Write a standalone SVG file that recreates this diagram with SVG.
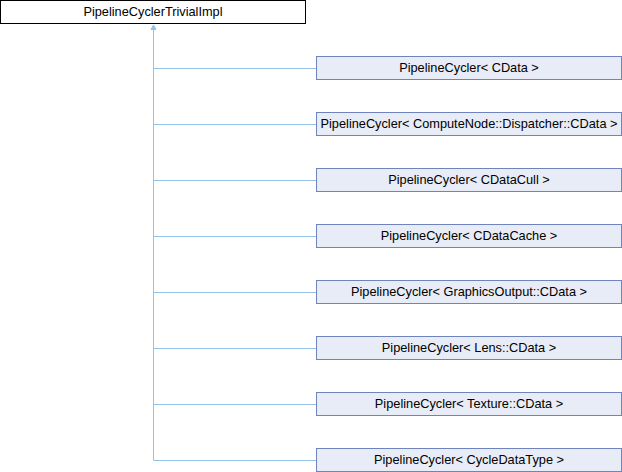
<svg xmlns="http://www.w3.org/2000/svg" width="622" height="472" viewBox="0 0 622 472">
<style>
text{font-family:"Liberation Sans",Arial,sans-serif;font-size:12.75px;text-anchor:middle;fill:#000}
.root rect{fill:#fff;stroke:#000;stroke-width:1}
.node rect{fill:#e8ecf6;stroke:#6f84bd;stroke-width:1}
.edge{fill:none;stroke:#93c3e8;stroke-width:1}
.head{fill:#93c3e8;stroke:#93c3e8;stroke-width:1}
</style>
<rect width="622" height="472" fill="#fff"/>
<g id="connectors">
<path class="edge" d="M153.5,460.5 V29"/>
<path class="head" d="M153.5,25 L156,29.5 L151,29.5 Z"/>
<path class="edge" d="M153.5,68.5 H316"/>
<path class="edge" d="M153.5,124.5 H316"/>
<path class="edge" d="M153.5,180.5 H316"/>
<path class="edge" d="M153.5,236.5 H316"/>
<path class="edge" d="M153.5,292.5 H316"/>
<path class="edge" d="M153.5,348.5 H316"/>
<path class="edge" d="M153.5,404.5 H316"/>
<path class="edge" d="M153.5,460.5 H316"/>
</g>
<g id="root" class="root"><rect x="0.5" y="0.5" width="305" height="23"/><text x="153" y="15.5">PipelineCyclerTrivialImpl</text></g>
<g id="n1" class="node"><rect x="316.5" y="56.5" width="305" height="23"/><text x="469" y="71.5">PipelineCycler&lt; CData &gt;</text></g>
<g id="n2" class="node"><rect x="316.5" y="112.5" width="305" height="23"/><text x="469" y="127.5">PipelineCycler&lt; ComputeNode::Dispatcher::CData &gt;</text></g>
<g id="n3" class="node"><rect x="316.5" y="168.5" width="305" height="23"/><text x="469" y="183.5">PipelineCycler&lt; CDataCull &gt;</text></g>
<g id="n4" class="node"><rect x="316.5" y="224.5" width="305" height="23"/><text x="469" y="239.5">PipelineCycler&lt; CDataCache &gt;</text></g>
<g id="n5" class="node"><rect x="316.5" y="280.5" width="305" height="23"/><text x="469" y="295.5">PipelineCycler&lt; GraphicsOutput::CData &gt;</text></g>
<g id="n6" class="node"><rect x="316.5" y="336.5" width="305" height="23"/><text x="469" y="351.5">PipelineCycler&lt; Lens::CData &gt;</text></g>
<g id="n7" class="node"><rect x="316.5" y="392.5" width="305" height="23"/><text x="469" y="407.5">PipelineCycler&lt; Texture::CData &gt;</text></g>
<g id="n8" class="node"><rect x="316.5" y="448.5" width="305" height="23"/><text x="469" y="463.5">PipelineCycler&lt; CycleDataType &gt;</text></g>
</svg>
